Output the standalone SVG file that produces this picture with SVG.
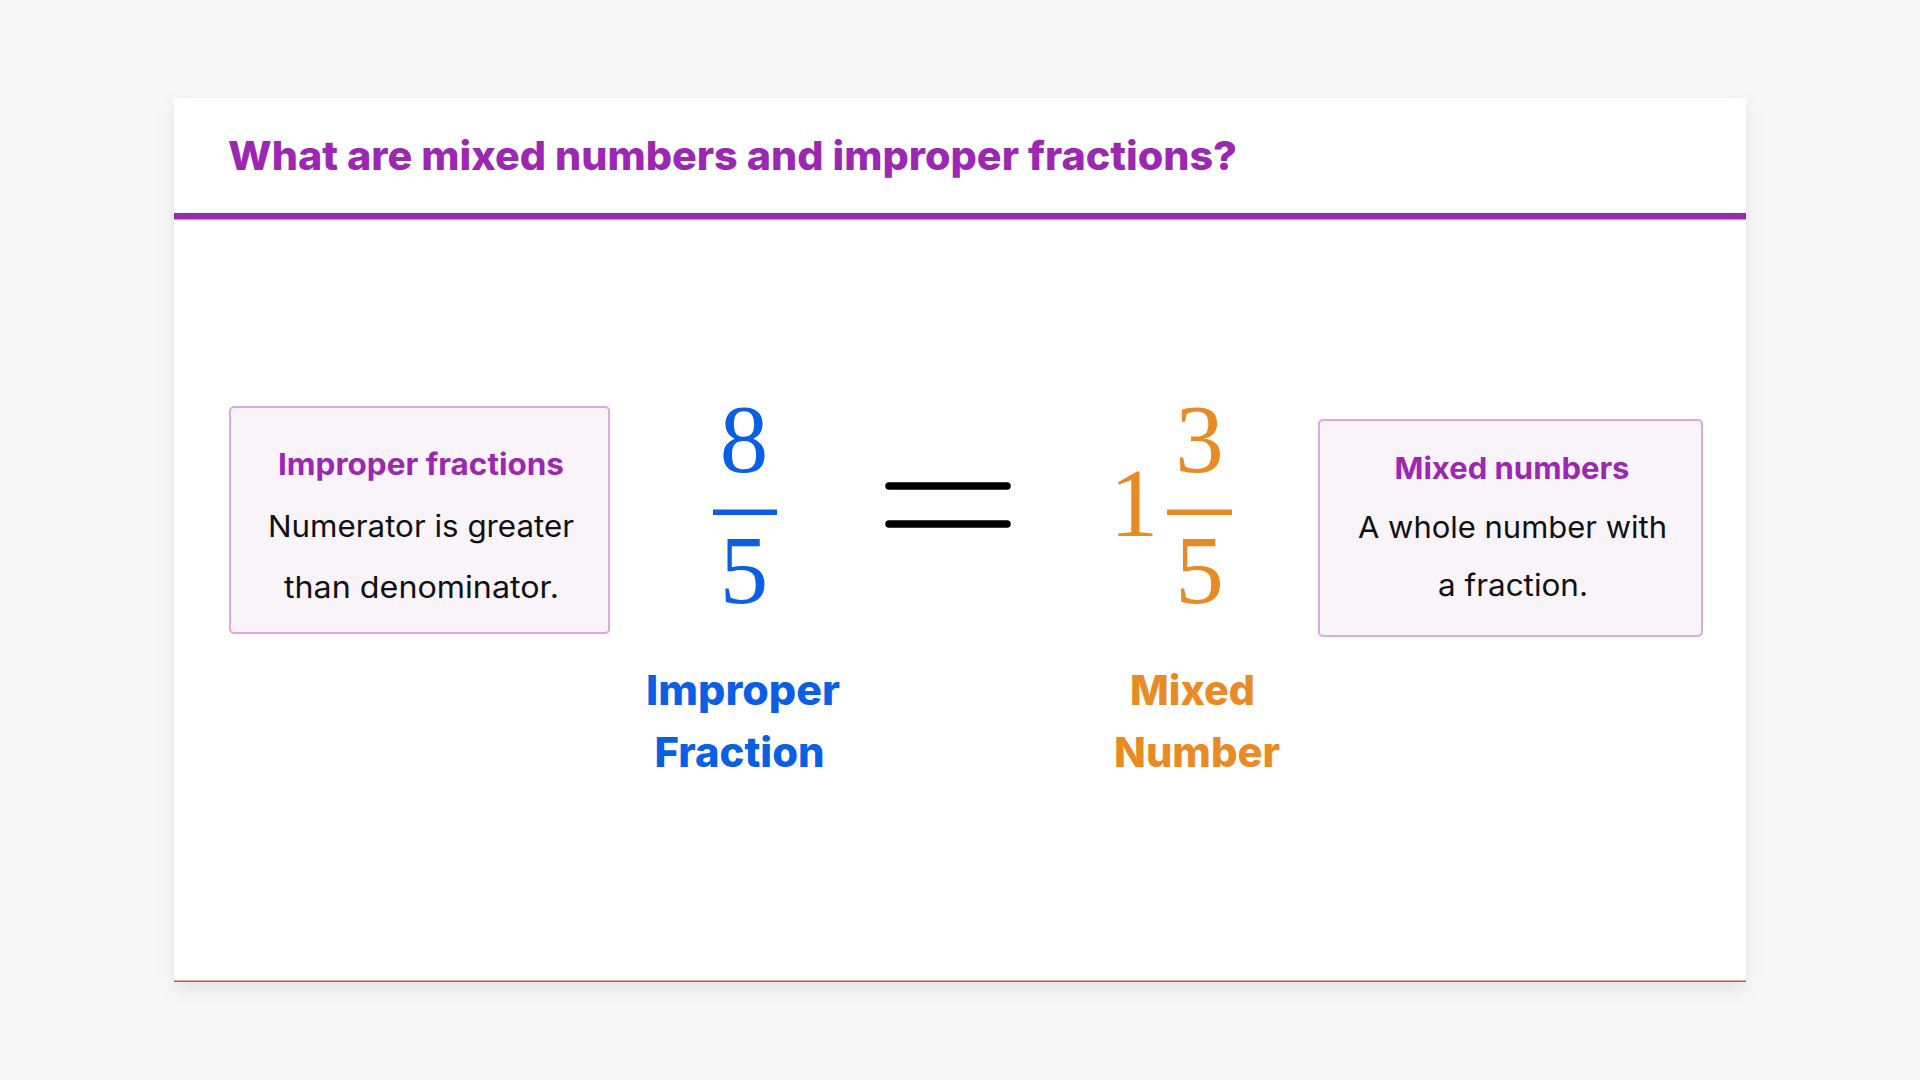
<svg xmlns="http://www.w3.org/2000/svg" width="1920" height="1080" viewBox="0 0 1920 1080">
  <defs>
    <filter id="shadow" x="-5%" y="-5%" width="110%" height="115%">
      <feDropShadow dx="0" dy="6" stdDeviation="9" flood-color="#000" flood-opacity="0.08"/>
    </filter>
    <style>
      .sans { font-family: Inter, "Open Sans", "DejaVu Sans", sans-serif; }
      .title { font-size: 40px; font-weight: 800; fill: #9C27B0; }
      .boxhead { font-size: 30px; font-weight: 700; fill: #9C27B0; text-anchor: middle; }
      .body { font-size: 30px; font-weight: 400; fill: #111111; text-anchor: middle; }
      .label { font-size: 41px; font-weight: 800; text-anchor: middle; }
      .math { font-family: "Liberation Serif", "DejaVu Serif", serif; font-size: 97px; text-anchor: middle; }
      .box { fill: #F9F3FA; stroke: #DDA9E2; stroke-width: 2; }
      .blue { fill: #0B5FE3; }
      .orange { fill: #E98B25; }
    </style>
  </defs>

  <rect x="0" y="0" width="1920" height="1080" fill="#F7F7F7"/>

  <g id="card">
    <rect x="174" y="98" width="1572" height="884" fill="#FFFFFF" filter="url(#shadow)"/>
    <rect x="174" y="980.5" width="1572" height="1.5" fill="#E0483D"/>
    <rect x="174" y="213" width="1572" height="6.5" fill="#9C27B0"/>
  </g>

  <g id="title">
    <text class="sans title" x="228" y="170" textLength="1009" lengthAdjust="spacingAndGlyphs">What are mixed numbers and improper fractions?</text>
  </g>

  <g id="improper-box">
    <rect class="box" x="230" y="407" width="379" height="226" rx="4"/>
    <text class="sans boxhead" x="421" y="475" textLength="286" lengthAdjust="spacingAndGlyphs">Improper fractions</text>
    <text class="sans body" x="421" y="537" textLength="306" lengthAdjust="spacingAndGlyphs">Numerator is greater</text>
    <text class="sans body" x="421.5" y="598" textLength="275" lengthAdjust="spacingAndGlyphs">than denominator.</text>
  </g>

  <g id="improper-fraction">
    <text class="math blue" x="744" y="472">8</text>
    <rect class="blue" x="713" y="509.5" width="64" height="5.5"/>
    <text class="math blue" x="744" y="603">5</text>
  </g>

  <g id="equals">
    <line x1="889" y1="486" x2="1007" y2="486" stroke="#000" stroke-width="7.5" stroke-linecap="round"/>
    <line x1="889" y1="524" x2="1007" y2="524" stroke="#000" stroke-width="7.5" stroke-linecap="round"/>
  </g>

  <g id="mixed-number">
    <text class="math orange" x="1134" y="536">1</text>
    <text class="math orange" x="1199.5" y="472">3</text>
    <rect class="orange" x="1167" y="509.5" width="65" height="5.5"/>
    <text class="math orange" x="1199.5" y="603">5</text>
  </g>

  <g id="label-improper">
    <text class="sans label blue" x="743" y="705" textLength="194" lengthAdjust="spacingAndGlyphs">Improper</text>
    <text class="sans label blue" x="739.5" y="767" textLength="170" lengthAdjust="spacingAndGlyphs">Fraction</text>
  </g>

  <g id="label-mixed">
    <text class="sans label orange" x="1192.5" y="705" textLength="125" lengthAdjust="spacingAndGlyphs">Mixed</text>
    <text class="sans label orange" x="1197" y="767" textLength="166" lengthAdjust="spacingAndGlyphs">Number</text>
  </g>

  <g id="mixed-box">
    <rect class="box" x="1319" y="420" width="383" height="216" rx="4"/>
    <text class="sans boxhead" x="1512" y="479" textLength="235" lengthAdjust="spacingAndGlyphs">Mixed numbers</text>
    <text class="sans body" x="1512.5" y="538" textLength="309" lengthAdjust="spacingAndGlyphs">A whole number with</text>
    <text class="sans body" x="1513" y="596" textLength="150" lengthAdjust="spacingAndGlyphs">a fraction.</text>
  </g>

  <g id="connectors"></g>
</svg>
